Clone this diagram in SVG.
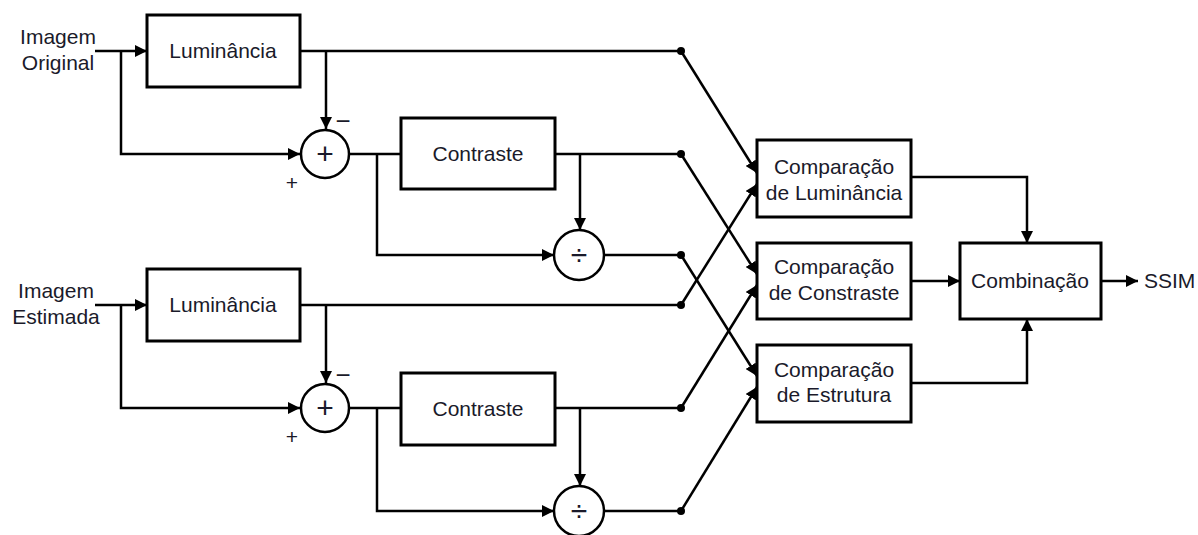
<svg xmlns="http://www.w3.org/2000/svg" width="1198" height="535" viewBox="0 0 1198 535">
<style>
.box{fill:#fff;stroke:#000;stroke-width:3}
.op{fill:#fff;stroke:#000;stroke-width:2.5}
.t{font-family:"Liberation Sans",Arial,sans-serif;font-size:21px;fill:#1a1a2a;text-anchor:middle}
.o{font-family:"Liberation Sans",Arial,sans-serif;font-size:30px;fill:#1a1a2a;text-anchor:middle}
.s{font-family:"Liberation Sans",Arial,sans-serif;font-size:21px;fill:#1a1a2a;text-anchor:middle}
.m{font-family:"Liberation Sans",Arial,sans-serif;font-size:26px;fill:#1a1a2a;text-anchor:middle}
.w{fill:none;stroke:#000;stroke-width:2.5}
.a{fill:none;stroke:#000;stroke-width:2.5;marker-end:url(#ah)}
.d{fill:#000}
</style>
<defs>
<marker id="ah" markerUnits="userSpaceOnUse" markerWidth="12" markerHeight="12" refX="12" refY="6" orient="auto">
<path d="M0,0 L12,6 L0,12 z" fill="#000"/>
</marker>
</defs>
<rect width="1198" height="535" fill="#fff"/>
<g id="connectors">
<path class="a" d="M95,51 H147"/>
<path class="a" d="M121,51 V154 H300"/>
<path class="w" d="M300,51 H681"/>
<path class="a" d="M326,51 V129"/>
<path class="w" d="M350,154 H401"/>
<path class="a" d="M377,154 V255 H554"/>
<path class="w" d="M555,154 H681"/>
<path class="a" d="M580,154 V230"/>
<path class="w" d="M604,255 H681"/>
<path class="a" d="M95,305 H147"/>
<path class="a" d="M121,305 V408 H300"/>
<path class="w" d="M300,305 H681"/>
<path class="a" d="M326,305 V383"/>
<path class="w" d="M350,408 H401"/>
<path class="a" d="M377,408 V511 H554"/>
<path class="w" d="M555,408 H681"/>
<path class="a" d="M580,408 V486"/>
<path class="w" d="M604,511 H681"/>
<path class="a" d="M681,51 L757,173"/>
<path class="a" d="M681,305 L757,184"/>
<path class="a" d="M681,154 L757,274"/>
<path class="a" d="M681,408 L757,285"/>
<path class="a" d="M681,255 L757,376"/>
<path class="a" d="M681,511 L757,387"/>
<path class="a" d="M911,177 H1027 V243"/>
<path class="a" d="M911,281 H960"/>
<path class="a" d="M911,383 H1027 V319"/>
<path class="a" d="M1101,281 H1138"/>
<circle class="d" cx="681" cy="51" r="4"/>
<circle class="d" cx="681" cy="154" r="4"/>
<circle class="d" cx="681" cy="255" r="4"/>
<circle class="d" cx="681" cy="305" r="4"/>
<circle class="d" cx="681" cy="408" r="4"/>
<circle class="d" cx="681" cy="511" r="4"/>
</g>
<g id="in1"><text class="t" x="58" y="44">Imagem</text><text class="t" x="58" y="70">Original</text></g>
<g id="in2"><text class="t" x="56" y="298">Imagem</text><text class="t" x="56" y="324">Estimada</text></g>
<g id="lum1"><rect class="box" x="147" y="15" width="153" height="72"/><text class="t" x="223" y="58">Luminância</text></g>
<g id="lum2"><rect class="box" x="147" y="269" width="153" height="72"/><text class="t" x="223" y="312">Luminância</text></g>
<g id="sum1"><circle class="op" cx="325" cy="154" r="24"/><text class="o" x="325" y="164">+</text><text class="m" x="343" y="130">−</text><text class="s" x="292" y="190">+</text></g>
<g id="sum2"><circle class="op" cx="325" cy="408" r="24"/><text class="o" x="325" y="418">+</text><text class="m" x="343" y="384">−</text><text class="s" x="292" y="444">+</text></g>
<g id="con1"><rect class="box" x="401" y="118" width="154" height="71"/><text class="t" x="478" y="161">Contraste</text></g>
<g id="con2"><rect class="box" x="401" y="373" width="154" height="72"/><text class="t" x="478" y="416">Contraste</text></g>
<g id="div1"><circle class="op" cx="579" cy="255" r="25"/><text class="o" x="579" y="265">÷</text></g>
<g id="div2"><circle class="op" cx="579" cy="511" r="25"/><text class="o" x="579" y="521">÷</text></g>
<g id="cmpLum"><rect class="box" x="757" y="140" width="154" height="77"/><text class="t" x="834" y="174">Comparação</text><text class="t" x="834" y="200">de Luminância</text></g>
<g id="cmpCon"><rect class="box" x="757" y="243" width="154" height="76"/><text class="t" x="834" y="274">Comparação</text><text class="t" x="834" y="300">de Constraste</text></g>
<g id="cmpEst"><rect class="box" x="757" y="345" width="154" height="77"/><text class="t" x="834" y="377">Comparação</text><text class="t" x="834" y="402">de Estrutura</text></g>
<g id="comb"><rect class="box" x="960" y="243" width="141" height="76"/><text class="t" x="1030" y="288">Combinação</text></g>
<g id="ssim"><text class="t" x="1144" y="288" style="text-anchor:start">SSIM</text></g>
</svg>
